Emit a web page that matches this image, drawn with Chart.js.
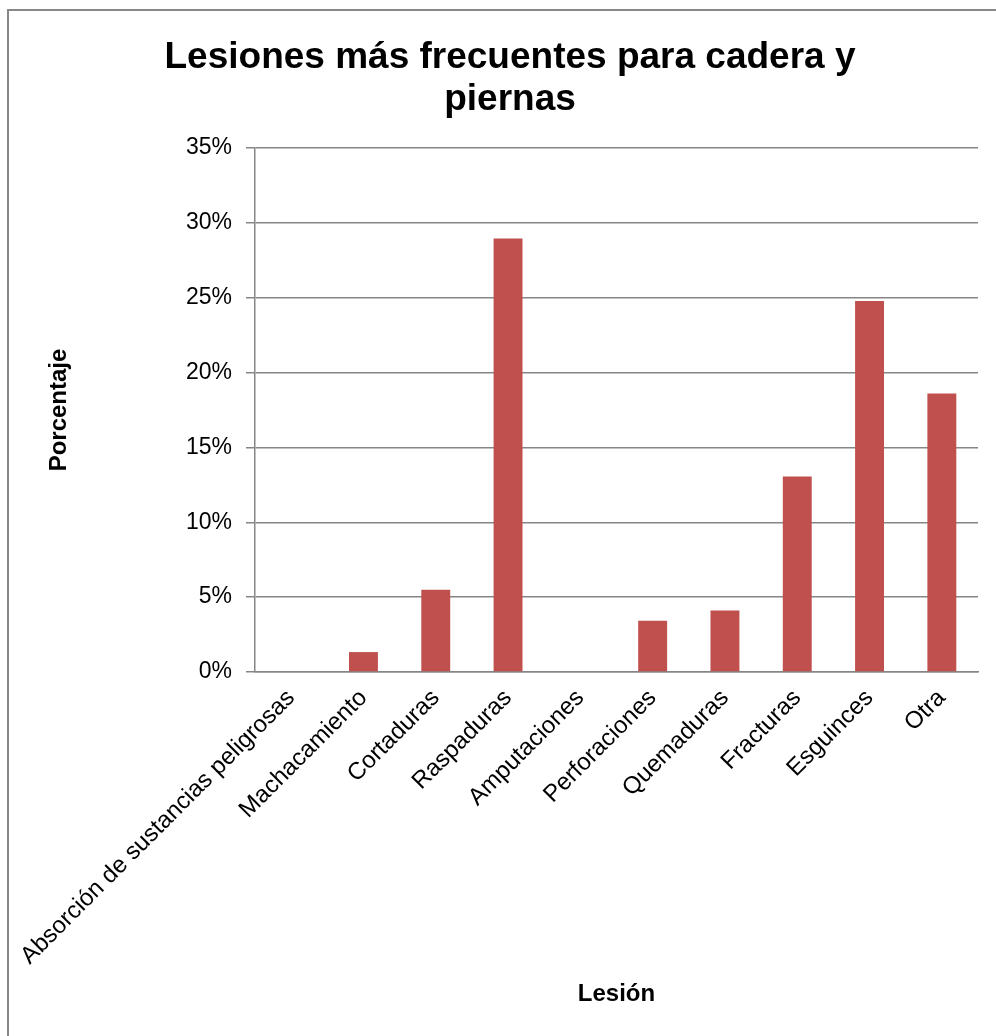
<!DOCTYPE html>
<html>
<head>
<meta charset="utf-8">
<script src="https://cdn.jsdelivr.net/npm/chart.js@4/dist/chart.umd.min.js"></script>
<style>
  body { margin: 0; background: #fff; }
  #frame {
    position: absolute; left: 7px; top: 9px; width: 1000px; height: 1040px;
    border-top: 2px solid #888; border-left: 2px solid #888;
  }
  #wrap { position: absolute; left: 0; top: 0; width: 996px; height: 1036px; }
</style>
</head>
<body>
<div id="frame"></div>
<div id="wrap"><canvas id="chart" width="996" height="1036"></canvas></div>
<script>
// chart data
const titleLines = ['Lesiones más frecuentes para cadera y', 'piernas'];
const lesiones = ['Absorción de sustancias peligrosas', 'Machacamiento', 'Cortaduras', 'Raspaduras',
    'Amputaciones', 'Perforaciones', 'Quemaduras', 'Fracturas', 'Esguinces', 'Otra'];
const porcentajes = [0, 0.0133, 0.055, 0.2895, 0, 0.0342, 0.041, 0.1306, 0.2478, 0.1861];
const yTicks = [0, 0.05, 0.10, 0.15, 0.20, 0.25, 0.30, 0.35];

const FONT = "'Liberation Sans', Arial, sans-serif";
const gridGray = 'rgb(134,134,134)';

const ctx = document.getElementById('chart').getContext('2d');
new Chart(ctx, {
    type: 'bar',
    data: {
        labels: lesiones,
        datasets: [{
            label: 'Porcentaje',
            data: porcentajes,
            backgroundColor: '#C0504D',
            categoryPercentage: 1,
            barPercentage: 0.4
        }]
    },
    options: {
        responsive: false,
        animation: false,
        layout: { padding: { left: 42, right: 18, top: 0, bottom: 0 } },
        plugins: {
            legend: { display: false },
            tooltip: { enabled: false },
            title: {
                display: true,
                text: titleLines,
                color: '#000',
                font: { family: FONT, size: 37, weight: 'bold', lineHeight: 1.135 },
                padding: { top: 37, bottom: 27 }
            }
        },
        scales: {
            x: {
                grid: { display: false, drawTicks: false },
                border: { display: true, color: gridGray, width: 1.5 },
                ticks: {
                    color: '#000',
                    font: { family: FONT, size: 24 },
                    minRotation: 45,
                    maxRotation: 45,
                    autoSkip: false,
                    padding: 12
                },
                title: {
                    display: true,
                    text: 'Lesión',
                    color: '#000',
                    font: { family: FONT, size: 24, weight: 'bold' },
                    padding: { top: 0, bottom: 27 }
                },
                afterFit: scale => { scale.height = 364; }
            },
            y: {
                min: 0,
                max: 0.35,
                afterBuildTicks: scale => { scale.ticks = yTicks.map(v => ({ value: v })); },
                grid: { color: gridGray, lineWidth: 1.5, tickLength: 9 },
                border: { display: true, color: gridGray, width: 1.5 },
                ticks: {
                    color: '#000',
                    font: { family: FONT, size: 23 },
                    padding: 14,
                    callback: v => Math.round(v * 100) + '%'
                },
                title: {
                    display: true,
                    text: 'Porcentaje',
                    color: '#000',
                    font: { family: FONT, size: 24, weight: 'bold' },
                    padding: { top: 3, bottom: 0 }
                },
                afterFit: scale => { scale.width = 213; }
            }
        }
    }
});
</script>
</body>
</html>
